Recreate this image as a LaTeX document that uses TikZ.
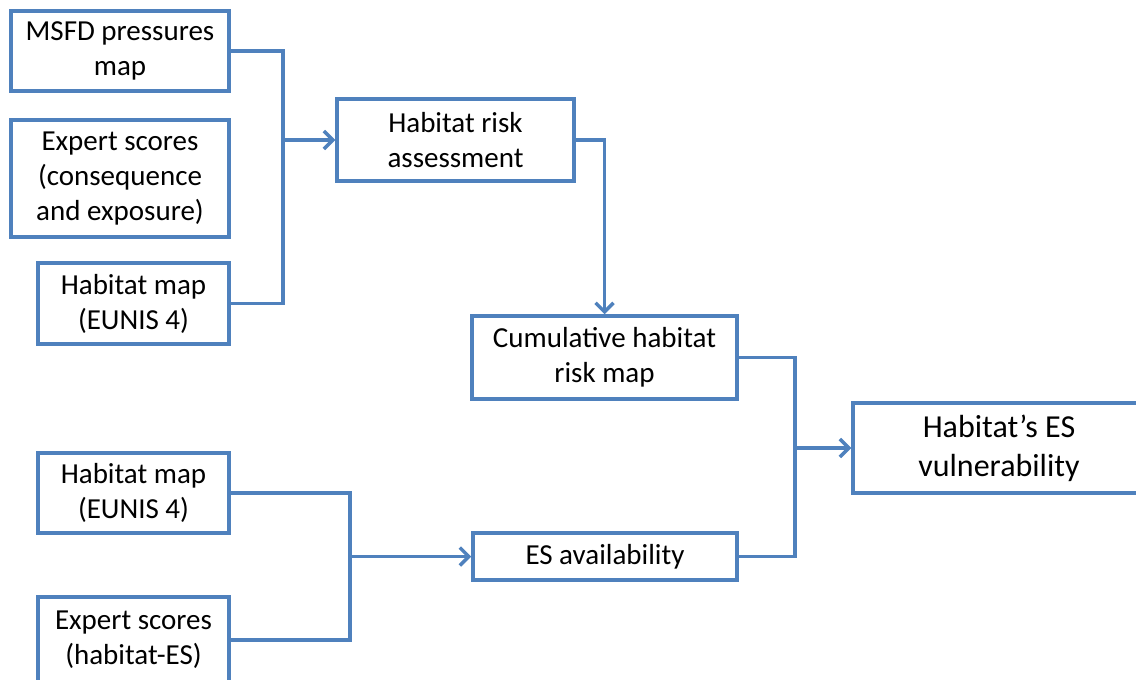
\documentclass[tikz,border=0pt]{standalone}
\usepackage{fontspec}
\setmainfont{Carlito}
\usetikzlibrary{arrows.meta}

\definecolor{boxblue}{RGB}{79,129,189}

\tikzset{
  box/.style={draw=boxblue,line width=3.5pt,fill=white,align=center,inner sep=0pt,
    font=\fontsize{29}{35}\selectfont},
  bigbox/.style={box,font=\fontsize{32}{39}\selectfont},
  link/.style={draw=boxblue,line width=3.5pt},
  feed/.style={link,-{Straight Barb[length=9pt,width=18pt]}}
}

\begin{document}
\begin{tikzpicture}[x=1pt,y=-1pt]
  \useasboundingbox (0,0) rectangle (1136,680);

  % --- Risk inputs ---
  \node[box,minimum width=218,minimum height=80]  (msfd)    at (120,51)    {MSFD pressures\\map};
  \node[box,minimum width=218,minimum height=117] (expertA) at (120,178.5) {Expert scores\\(consequence\\and exposure)};
  \node[box,minimum width=191,minimum height=81]  (habA)    at (133.5,303.5) {Habitat map\\(EUNIS 4)};

  % --- ES inputs ---
  \node[box,minimum width=191,minimum height=80]  (habB)    at (133.5,493) {Habitat map\\(EUNIS 4)};
  \node[box,minimum width=191,minimum height=86]  (expertB) at (133.5,640) {Expert scores\\(habitat-ES)};

  % --- Intermediate results ---
  \node[box,minimum width=237,minimum height=82]  (risk)    at (455.5,140)  {Habitat risk\\assessment};
  \node[box,minimum width=265,minimum height=83]  (cumrisk) at (604.5,357.5) {Cumulative habitat\\risk map};
  \node[box,minimum width=264,minimum height=47]  (esavail) at (605,556.5)  {ES availability};

  % --- Result (runs off the page on the right) ---
  \node[bigbox,minimum width=292,minimum height=90] (vuln) at (999,448) {Habitat's ES\\vulnerability};

  % --- Junctions ---
  \coordinate (jrisk) at (283,140);
  \coordinate (jes)   at (350,556.5);
  \coordinate (jvuln) at (795,448);

  % --- Connectors ---
  \draw[link] (msfd.east) -| (jrisk) |- (habA.east);
  \draw[feed] (jrisk) -- (risk.west);
  \draw[feed] (risk.east) -| (cumrisk.north);

  \draw[link] (habB.east) -| (jes) |- (expertB.east);
  \draw[feed] (jes) -- (esavail.west);

  \draw[link] (cumrisk.east) -| (jvuln) |- (esavail.east);
  \draw[feed] (jvuln) -- (vuln.west);
\end{tikzpicture}
\end{document}
